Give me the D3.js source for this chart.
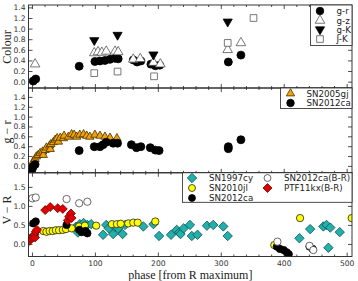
<!DOCTYPE html>
<html>
<head>
<meta charset="utf-8">
<title>SN2012ca colours</title>
<script src="https://d3js.org/d3.v7.min.js"></script>
<style>
  body { margin: 0; background: #fff; }
  text { font-family: "DejaVu Sans", sans-serif; }
  .lab { font-family: "Liberation Serif", serif; font-size: 12px; fill: #222; }
  .tick text { font-size: 7.6px; fill: #333; }
  .leg text { font-size: 8.7px; fill: #222; }
</style>
</head>
<body>
<svg id="chart"></svg>
<script>
// ---- values ----
// top panel (Colour of SN2012ca)
var grPhase = [2, 6, 75, 100, 108, 116, 124, 132, 137, 161, 167, 173, 189, 196, 203, 312, 332];
var grVal   = [0.01, 0.05, 0.29, 0.38, 0.39, 0.40, 0.42, 0.44, 0.43, 0.41, 0.37, 0.39, 0.33, 0.30, 0.31, 0.37, 0.50];
var gzPhase = [5, 99, 105, 111, 118, 132, 137, 161, 172, 193, 204, 311, 332];
var gzVal   = [0.33, 0.54, 0.56, 0.55, 0.57, 0.57, 0.56, 0.42, 0.43, 0.36, 0.33, 0.60, 0.73];
var gKPhase = [99, 136, 193, 311];
var gKVal   = [0.78, 0.88, 0.51, 1.13];
var jKPhase = [99, 136, 194, 311, 352];
var jKVal   = [0.16, 0.19, 0.10, 0.73, 1.20];

// middle panel (g-r)
var gjPhase = [-5, 0, 2, 5, 7, 10, 13, 17, 18, 21, 23, 28, 29, 30, 34, 37, 40, 42, 45, 50, 51, 58, 63, 67, 71, 76, 82, 87, 92, 100, 108, 116, 124, 135];
var gjVal   = [-0.08, 0.02, 0.09, 0.14, 0.19, 0.22, 0.26, 0.29, 0.22, 0.32, 0.37, 0.41, 0.34, 0.44, 0.48, 0.53, 0.56, 0.49, 0.57, 0.56, 0.61, 0.59, 0.64, 0.63, 0.59, 0.63, 0.64, 0.61, 0.59, 0.63, 0.61, 0.59, 0.57, 0.56];
var caGrPhase = [0, 2, 5, 75, 99, 108, 113, 118, 129, 136, 158, 166, 173, 188, 196, 202, 312, 312, 332];
var caGrVal   = [-0.08, -0.01, 0.03, 0.31, 0.39, 0.39, 0.43, 0.48, 0.46, 0.46, 0.43, 0.37, 0.39, 0.37, 0.32, 0.31, 0.39, 0.35, 0.53];

// bottom panel (V-R)
var cyPhase = [70, 73, 76, 82, 85, 88, 94, 113, 118, 122, 129, 132, 137, 144, 148, 177, 193, 202, 221, 230, 234, 236, 241, 251, 254, 263, 278, 288, 304, 311, 425, 442, 463, 468, 471, 474, 489];
var cyVal   = [0.45, 0.30, 0.52, 0.55, 0.35, 0.50, 0.52, 0.24, 0.50, 0.41, 0.26, 0.45, 0.41, 0.26, 0.50, 0.46, 0.52, 0.21, 0.24, 0.37, 0.30, 0.26, 0.41, 0.50, 0.21, 0.24, 0.48, 0.50, 0.46, 0.21, 0.15, 0.39, 0.46, 0.50, -0.10, 0.43, 0.31];
var jlPhase = [18, 23, 28, 33, 38, 43, 49, 54, 63, 75, 84, 102, 127, 135, 141, 153, 161, 168, 196, 385, 426, 508];
var jlVal   = [0.34, 0.32, 0.34, 0.34, 0.36, 0.36, 0.37, 0.39, 0.41, 0.46, 0.48, 0.48, 0.52, 0.52, 0.53, 0.54, 0.56, 0.56, 0.59, -0.03, 0.68, 0.68];
var caVRPhase = [2, 6, 55, 75, 79, 85, 88, 389, 394, 400, 405, 408, 441, 446];
var caVRVal   = [0.54, 0.59, 0.50, 0.37, 0.31, 0.34, 0.28, -0.07, -0.13, -0.16, -0.22, -0.27, -0.07, -0.13];
var caBRPhase = [0.5, 6, 55, 75, 88, 390, 441, 447];
var caBRVal   = [1.20, 1.22, 1.18, 1.07, 1.11, 0.06, -0.05, -0.16];
var kxPhase = [-4, -2, 1, 4, 5, 6, 8, 21, 29, 41, 49, 57, 59, 62, 63];
var kxVal   = [0.08, 0.15, 0.19, 0.24, 0.17, 0.32, 0.37, 0.89, 0.97, 0.94, 0.92, 0.62, 0.72, 0.80, 0.68];

var xMajor = [0, 100, 200, 300, 400, 500];

// ---- layout ----
var W = 358, H = 281;
var left = 28.5, right = 352;

var svg = d3.select("#chart").attr("width", W).attr("height", H);

var x = d3.scaleLinear().domain([-5.5, 508.5]).range([left, right]);
var xMinor = d3.range(0, 509, 20).filter(function(d) { return d % 100 != 0; });

// matplotlib style "D" marker (square turned 45 deg)
var diamond = { draw: function(ctx, size) {
  var r = Math.sqrt(size / 2);
  ctx.moveTo(0, -r); ctx.lineTo(r, 0); ctx.lineTo(0, r); ctx.lineTo(-r, 0); ctx.closePath();
}};

function makePanel(id, top, bottom, yDomain, yTicks, fmt, showXLabels) {
  var y = d3.scaleLinear().domain(yDomain).range([bottom, top]);
  var g = svg.append("g").attr("id", id);

  g.append("clipPath").attr("id", "clip-" + id)
    .append("rect").attr("x", left).attr("y", top).attr("width", right - left).attr("height", bottom - top);

  // inward ticks on all four sides
  g.append("g").attr("transform", "translate(0," + bottom + ")")
    .call(d3.axisBottom(x).tickValues(xMajor).tickSizeInner(-4).tickSizeOuter(0).tickPadding(4)
      .tickFormat(showXLabels ? d3.format("d") : ""));
  g.append("g").attr("transform", "translate(0," + bottom + ")")
    .call(d3.axisBottom(x).tickValues(xMinor).tickSizeInner(-2).tickSizeOuter(0).tickFormat(""));
  g.append("g").attr("transform", "translate(0," + top + ")")
    .call(d3.axisTop(x).tickValues(xMajor).tickSizeInner(-4).tickSizeOuter(0).tickFormat(""));
  g.append("g").attr("transform", "translate(0," + top + ")")
    .call(d3.axisTop(x).tickValues(xMinor).tickSizeInner(-2).tickSizeOuter(0).tickFormat(""));
  g.append("g").attr("transform", "translate(" + left + ",0)")
    .call(d3.axisLeft(y).tickValues(yTicks).tickSizeInner(-4).tickSizeOuter(0).tickPadding(3).tickFormat(d3.format(fmt)));
  g.append("g").attr("transform", "translate(" + right + ",0)")
    .call(d3.axisRight(y).tickValues(yTicks).tickSizeInner(-4).tickSizeOuter(0).tickFormat(""));

  g.selectAll(".domain").remove();
  g.selectAll(".tick line").attr("stroke", "#222").attr("stroke-width", 0.8);
  g.selectAll(".tick text").attr("fill", "#333");

  var plot = g.append("g").attr("clip-path", "url(#clip-" + id + ")");

  g.append("rect").attr("x", left).attr("y", top).attr("width", right - left).attr("height", bottom - top)
    .attr("fill", "none").attr("stroke", "#222").attr("stroke-width", 0.9);

  return { g: g, plot: plot, y: y };
}

function points(p, phases, vals, type, size, fill, stroke, rot) {
  var sym = d3.symbol().type(type).size(size);
  p.plot.append("g").selectAll("path")
    .data(phases.map(function(d, i) { return [d, vals[i]]; }))
    .enter().append("path")
      .attr("d", sym)
      .attr("transform", function(d) {
        return "translate(" + x(d[0]) + "," + p.y(d[1]) + ")" + (rot ? " rotate(" + rot + ")" : "");
      })
      .attr("fill", fill)
      .attr("stroke", stroke)
      .attr("stroke-width", 0.8);
}

function legend(p, bx, by, bw, bh, items) {
  var lg = p.g.append("g").attr("class", "leg");
  lg.append("rect").attr("x", bx).attr("y", by).attr("width", bw).attr("height", bh)
    .attr("fill", "#fff").attr("stroke", "#222").attr("stroke-width", 0.8);
  items.forEach(function(it) {
    lg.append("path")
      .attr("d", d3.symbol().type(it.type).size(it.size))
      .attr("transform", "translate(" + it.mx + "," + it.my + ")" + (it.rot ? " rotate(" + it.rot + ")" : ""))
      .attr("fill", it.fill).attr("stroke", it.stroke).attr("stroke-width", 0.8);
    lg.append("text").attr("x", it.tx).attr("y", it.my).attr("dy", "0.35em").text(it.label);
  });
}

// ---- top panel ----
var p1 = makePanel("p1", 5, 88, [-0.12, 1.445], d3.range(0, 1.41, 0.2), ".1f", false);
points(p1, grPhase, grVal, d3.symbolCircle, 50, "#000", "#000");
points(p1, gzPhase, gzVal, d3.symbolTriangle, 40, "#fff", "#555");
points(p1, gKPhase, gKVal, d3.symbolTriangle, 36, "#000", "#000", 180);
points(p1, jKPhase, jKVal, d3.symbolSquare, 45, "#fff", "#555");
legend(p1, 310.5, 5, 41.5, 40.5, [
  { type: d3.symbolCircle, size: 45, fill: "#000", stroke: "#000", mx: 320, my: 11, tx: 336.5, label: "g-r" },
  { type: d3.symbolTriangle, size: 40, fill: "#fff", stroke: "#555", mx: 320, my: 20.5, tx: 336.5, label: "g-z" },
  { type: d3.symbolTriangle, size: 36, fill: "#000", stroke: "#000", mx: 320, my: 29.5, tx: 336.5, label: "g-K", rot: 180 },
  { type: d3.symbolSquare, size: 45, fill: "#fff", stroke: "#555", mx: 320, my: 39, tx: 336.5, label: "J-K" }
]);

// ---- middle panel ----
var p2 = makePanel("p2", 88, 172.8, [-0.14, 1.58], d3.range(0, 1.41, 0.2), ".1f", false);
points(p2, gjPhase, gjVal, d3.symbolTriangle, 30, "#f0a30a", "#4a3000");
points(p2, caGrPhase, caGrVal, d3.symbolCircle, 50, "#000", "#000");
legend(p2, 280.5, 88, 71.5, 20.5, [
  { type: d3.symbolTriangle, size: 30, fill: "#f0a30a", stroke: "#4a3000", mx: 290.5, my: 93.5, tx: 306.5, label: "SN2005gj" },
  { type: d3.symbolCircle, size: 45, fill: "#000", stroke: "#000", mx: 290.5, my: 103, tx: 306.5, label: "SN2012ca" }
]);

// ---- bottom panel ----
var p3 = makePanel("p3", 172.8, 256.5, [-0.33, 1.87], [0, 0.5, 1.0, 1.5], ".1f", true);
points(p3, cyPhase, cyVal, diamond, 44, "#22b0ad", "#0b4f4e");
points(p3, jlPhase, jlVal, d3.symbolCircle, 42, "#ffff00", "#222");
points(p3, caVRPhase, caVRVal, d3.symbolCircle, 42, "#000", "#000");
points(p3, caBRPhase, caBRVal, d3.symbolCircle, 42, "#fff", "#444");
points(p3, kxPhase, kxVal, diamond, 40, "#e00000", "#700000");
legend(p3, 182.5, 172.8, 169.5, 29.5, [
  { type: diamond, size: 44, fill: "#22b0ad", stroke: "#0b4f4e", mx: 192, my: 178, tx: 209, label: "SN1997cy" },
  { type: d3.symbolCircle, size: 38, fill: "#ffff00", stroke: "#222", mx: 192, my: 188, tx: 209, label: "SN2010jl" },
  { type: d3.symbolCircle, size: 38, fill: "#000", stroke: "#000", mx: 192, my: 198, tx: 209, label: "SN2012ca" },
  { type: d3.symbolCircle, size: 38, fill: "#fff", stroke: "#444", mx: 267.5, my: 178, tx: 284, label: "SN2012ca(B-R)" },
  { type: diamond, size: 40, fill: "#e00000", stroke: "#700000", mx: 267.5, my: 188, tx: 284, label: "PTF11kx(B-R)" }
]);

// ---- axis titles ----
svg.append("text").attr("class", "lab").attr("text-anchor", "middle").attr("dy", "0.35em")
  .attr("transform", "translate(7,47) rotate(-90)").text("Colour");
svg.append("text").attr("class", "lab").attr("text-anchor", "middle").attr("dy", "0.35em")
  .attr("transform", "translate(7,132) rotate(-90)").text("g \u2212 r");
svg.append("text").attr("class", "lab").attr("text-anchor", "middle").attr("dy", "0.35em")
  .attr("transform", "translate(7,210) rotate(-90)").text("V \u2212 R");
svg.append("text").attr("class", "lab").attr("text-anchor", "middle")
  .attr("x", (x(0) + x(500)) / 2 + 1).attr("y", 279).text("phase [from R maximum]");
</script>
</body>
</html>
